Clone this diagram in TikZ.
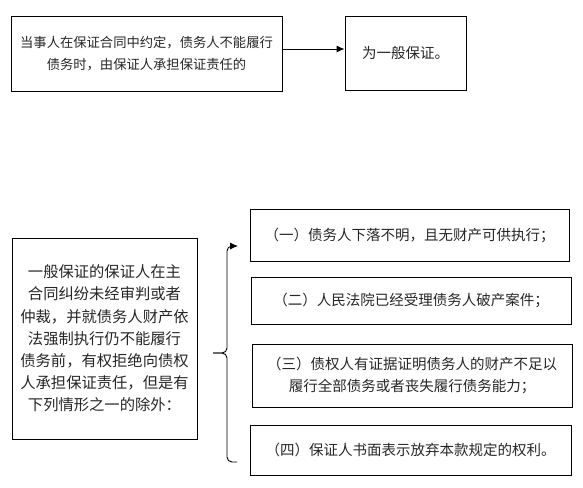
\documentclass[tikz,border=0pt]{standalone}
\usepackage{fontspec}
\setmainfont{Noto Sans CJK SC}
\usetikzlibrary{arrows.meta}
\begin{document}
\begin{tikzpicture}[x=1pt,y=-1pt]
			\tikzstyle{fleche}=[->,>={Latex[length=8pt,width=7pt]},line width=0.9pt]
			\tikzstyle{trait}=[line width=0.9pt]
			\tikzstyle{boite}=[draw,line width=0.9pt,inner sep=0pt,align=center,text=black!85,font=\fontsize{14.5}{22}\selectfont]
			
			\def\XAccolade{227}
			\def\YMilieu{353}
			
			\useasboundingbox (0,0) rectangle (583,487);
			
			\node[boite,minimum width=271pt,minimum height=75pt,font=\fontsize{13.3}{22}\selectfont] (Cond) at (146.5,53.5) {当事人在保证合同中约定，债务人不能履行\\债务时，由保证人承担保证责任的};
			\node[boite,minimum width=121pt,minimum height=74pt] (Gen) at (405.5,53) {为一般保证。};
			\node[boite,minimum width=185pt,minimum height=201pt,font=\fontsize{15.3}{22.2}\selectfont] (Refus) at (104.5,338.5) {一般保证的保证人在主\\合同纠纷未经审判或者\\仲裁，并就债务人财产依\\法强制执行仍不能履行\\债务前，有权拒绝向债权\\人承担保证责任，但是有\\下列情形之一的除外：};
			\node[boite,minimum width=319pt,minimum height=52pt] (Ca) at (409.5,235) {（一）债务人下落不明，且无财产可供执行；};
			\node[boite,minimum width=320pt,minimum height=47pt] (Cb) at (411,300.5) {（二）人民法院已经受理债务人破产案件；};
			\node[boite,minimum width=320pt,minimum height=63pt] (Cc) at (412,375.5) {（三）债权人有证据证明债务人的财产不足以\\履行全部债务或者丧失履行债务能力；};
			\node[boite,minimum width=321pt,minimum height=50pt] (Cd) at (410.5,450) {（四）保证人书面表示放弃本款规定的权利。};
			
			\coordinate (Pointe) at (213,\YMilieu);
			\coordinate (Haut) at (238,246);
			\coordinate (Bas) at (237,462);
			
			\draw[fleche] (Cond.east |- 0,49) -- (Gen.west |- 0,49);
			\draw[fleche,rounded corners=5pt] (Pointe) -- (\XAccolade,\YMilieu) -- (\XAccolade,246) -- (Haut);
			\draw[trait,rounded corners=5pt] (Pointe) -- (\XAccolade,\YMilieu) -- (\XAccolade,462) -- (Bas);
		\end{tikzpicture}
\end{document}
